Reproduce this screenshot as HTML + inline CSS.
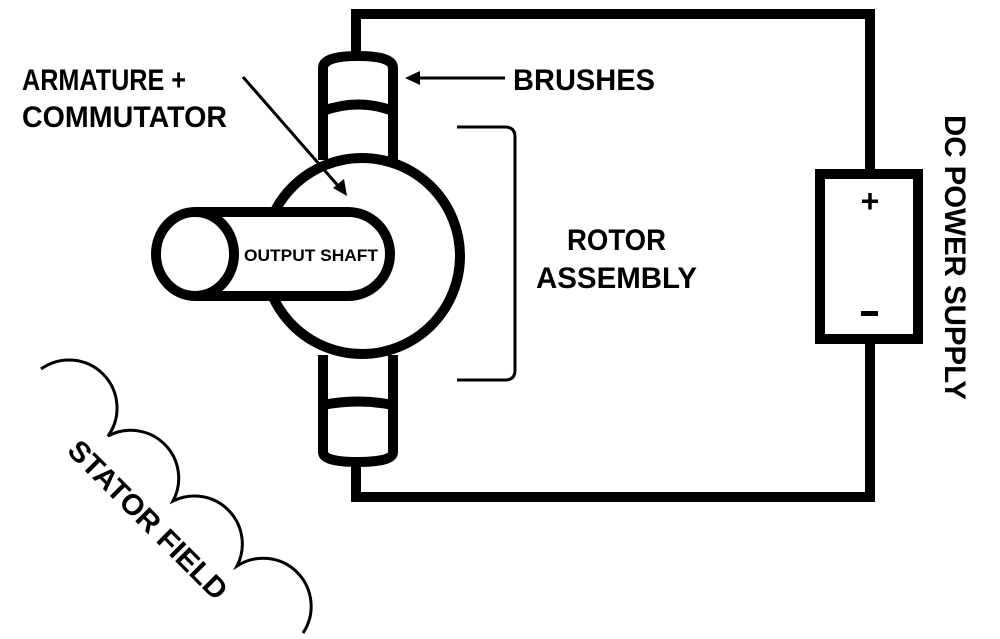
<!DOCTYPE html>
<html><head><meta charset="utf-8"><style>html,body{margin:0;padding:0;background:#fff}svg{display:block}</style></head>
<body>
<svg width="1000" height="639" viewBox="0 0 1000 639" xmlns="http://www.w3.org/2000/svg" font-family="Liberation Sans, sans-serif" font-weight="bold">
<rect width="1000" height="639" fill="#fff"/>
<g fill="none" stroke="#000" stroke-width="10">
<polyline points="356,56 356,14 870,14 870,174"/>
<polyline points="870,340 870,497 356,497 356,460"/>
<rect x="820" y="174" width="98" height="165" fill="#fff"/>
<path d="M323,160 V68 Q323,56 358,56 Q393,56 393,68 V160" fill="#fff"/>
<path d="M323,111 Q358,98 393,111"/>
<path d="M323,355 V452 Q323,462 358,462 Q393,462 393,452 V355" fill="#fff"/>
<path d="M323,405 Q358,398 393,405"/>
<circle cx="362" cy="256" r="98" fill="#fff"/>
<path d="M195,212 H348 A42,42 0 0 1 348,296 H195" fill="#fff"/>
<ellipse cx="195" cy="254" rx="39" ry="42" fill="#fff"/>
</g>
<g fill="none" stroke="#000" stroke-width="3">
<path d="M457,127 H505 Q515,127 515,137 V370 Q515,380 505,380 H457"/>
<line x1="505" y1="78" x2="415" y2="78"/>
<line x1="243" y1="77" x2="340" y2="188"/>
<path d="M41,369 A48,48 0 0 1 108,436 A48,48 0 0 1 173,501 A48,48 0 0 1 237,566 A48,48 0 0 1 303,633"/>
</g>
<polygon points="405,78 420,71 420,85" fill="#000"/>
<polygon points="347,196 333,188 344,179" fill="#000"/>
<g fill="#000" font-size="30">
<text x="22" y="90" textLength="164" lengthAdjust="spacingAndGlyphs">ARMATURE +</text>
<text x="22" y="127" textLength="205" lengthAdjust="spacingAndGlyphs">COMMUTATOR</text>
<text x="513" y="90" textLength="142" lengthAdjust="spacingAndGlyphs">BRUSHES</text>
<text x="567" y="250" textLength="99" lengthAdjust="spacingAndGlyphs">ROTOR</text>
<text x="536" y="288" textLength="161" lengthAdjust="spacingAndGlyphs">ASSEMBLY</text>
<text x="244" y="261" font-size="17" textLength="134" lengthAdjust="spacingAndGlyphs">OUTPUT SHAFT</text>
<text x="870" y="212" font-size="32" text-anchor="middle">+</text>
<rect x="861" y="311" width="17" height="5"/>
<text transform="translate(945,115) rotate(90)" textLength="285" lengthAdjust="spacingAndGlyphs">DC POWER SUPPLY</text>
<text transform="translate(66,452) rotate(45)" font-size="29" textLength="212" lengthAdjust="spacingAndGlyphs">STATOR FIELD</text>
</g>
</svg>
</body></html>
